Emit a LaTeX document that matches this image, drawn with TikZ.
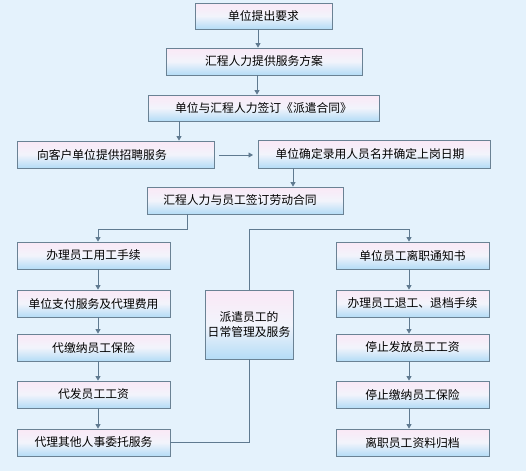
\documentclass[tikz,border=0pt]{standalone}
\usepackage{fontspec}
\setmainfont{Noto Sans CJK SC}
\usetikzlibrary{arrows.meta}
\definecolor{bg}{HTML}{E4F2FC}
\definecolor{bx}{HTML}{6A8294}
\definecolor{ln}{HTML}{5F7A90}
\definecolor{tp}{HTML}{FAE8F6}
\definecolor{bt}{HTML}{B4DCF6}
\tikzset{
  box/.style={draw=bx, line width=0.8pt, rectangle, inner sep=0pt,
    top color=tp, bottom color=bt, middle color=tp!60!bt!40!white,
    font=\fontsize{11.8}{14.5}\selectfont, text=black, align=center},
  conn/.style={draw=ln, line width=0.8pt},
  arr/.style={conn, -{Triangle[length=4.5pt,width=5pt]}},
}
\begin{document}
\begin{tikzpicture}[x=1pt,y=-1pt]
\fill[bg] (0,0) rectangle (526,471);
\useasboundingbox (0,0) rectangle (526,471);
% top chain
\node[box, minimum width=137pt, minimum height=26pt] (b1) at (263.5,16) {单位提出要求};
\node[box, minimum width=196pt, minimum height=27pt] (b2) at (264,61.5) {汇程人力提供服务方案};
\node[box, minimum width=231pt, minimum height=26pt] (b3) at (263.5,108) {单位与汇程人力签订《派遣合同》};
\node[box, minimum width=197pt, minimum height=27pt, text width=185pt, align=left] (b4) at (115.5,154.5) {\hspace*{14pt}向客户单位提供招聘服务};
\node[box, minimum width=232pt, minimum height=28pt] (b5) at (374,154) {\hspace*{-8pt}单位确定录用人员名并确定上岗日期};
\node[box, minimum width=196pt, minimum height=27pt] (b6) at (245,200.5) {\hspace*{-10pt}汇程人力与员工签订劳动合同};
% left column
\node[box, minimum width=153pt, minimum height=27pt] (l1) at (93.5,255.5) {办理员工用工手续};
\node[box, minimum width=153pt, minimum height=27pt] (l2) at (93.5,303.5) {单位支付服务及代理费用};
\node[box, minimum width=153pt, minimum height=27pt] (l3) at (93.5,347.5) {代缴纳员工保险};
\node[box, minimum width=153pt, minimum height=27pt] (l4) at (93.5,394.5) {代发员工工资};
\node[box, minimum width=153pt, minimum height=27pt] (l5) at (93.5,442.5) {代理其他人事委托服务};
% middle
\node[box, minimum width=88pt, minimum height=69pt] (m) at (249,324.5) {派遣员工的\\日常管理及服务};
% right column
\node[box, minimum width=153pt, minimum height=27pt] (r1) at (412.5,255.5) {单位员工离职通知书};
\node[box, minimum width=153pt, minimum height=27pt] (r2) at (412.5,303.5) {办理员工退工、退档手续};
\node[box, minimum width=153pt, minimum height=27pt] (r3) at (412.5,347.5) {停止发放员工工资};
\node[box, minimum width=153pt, minimum height=27pt] (r4) at (412.5,394.5) {停止缴纳员工保险};
\node[box, minimum width=153pt, minimum height=27pt] (r5) at (412.5,442.5) {离职员工资料归档};
% connectors
\draw[arr] (b1.south -| 258,0) -- (b2.north -| 258,0);
\draw[arr] (b2.south -| 257,0) -- (b3.north -| 257,0);
\draw[arr] (b3.south -| 179,0) -- (b4.north -| 179,0);
\coordinate (h1) at (219,155);
\coordinate (h2) at (253,155);
\draw[arr] (h1) -- (h2);
\draw[arr] (b5.south -| 293,0) -- (b6.north -| 293,0);
\coordinate (s1) at (187,229);
\draw[arr] (b6.south -| s1) -- (s1) -| (l1.north -| 98,0);
\draw[arr] (m.north -| 249,0) |- (409,229) -- (r1.north -| 409,0);
\draw[arr] (l1.south -| 98,0) -- (l2.north -| 98,0);
\draw[arr] (l2.south -| 98,0) -- (l3.north -| 98,0);
\draw[arr] (l3.south -| 98,0) -- (l4.north -| 98,0);
\draw[arr] (l4.south -| 98,0) -- (l5.north -| 98,0);
\draw[arr] (r1.south -| 409,0) -- (r2.north -| 409,0);
\draw[arr] (r2.south -| 409,0) -- (r3.north -| 409,0);
\draw[arr] (r3.south -| 409,0) -- (r4.north -| 409,0);
\draw[arr] (r4.south -| 409,0) -- (r5.north -| 409,0);
\draw[conn] (m.south -| 249,0) |- (l5.east);
\end{tikzpicture}
\end{document}
